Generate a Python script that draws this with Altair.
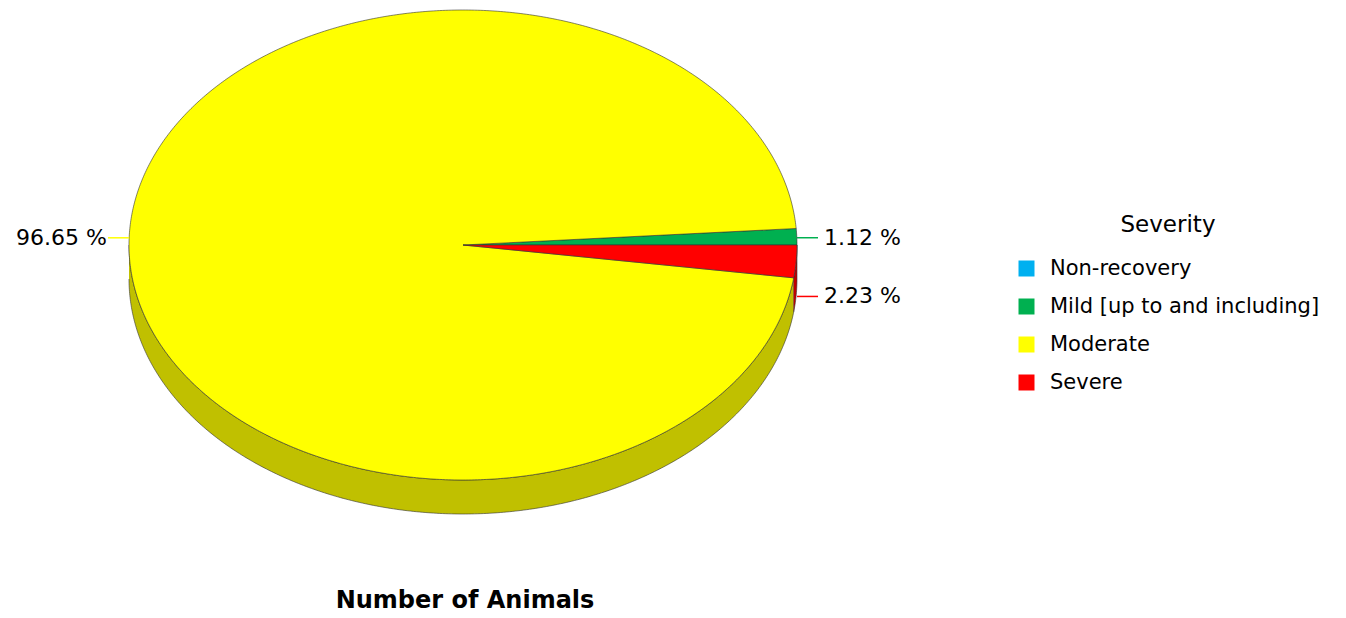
import math
import numpy as np
import pandas as pd
import altair as alt

# ---- data ----
severity = ["Non-recovery", "Mild [up to and including]", "Moderate", "Severe"]
percent = [0.0, 1.12, 96.65, 2.23]
colors = ["#00b0f0", "#00b050", "#ffff00", "#ff0000"]
side_colors = ["#0084b4", "#00843c", "#c0c000", "#c00000"]
label_shift = [0, 0, 0, 34]  # label spacing adjustment (pixels)

# ---- layout (pixels in plot coordinates) ----
W, H = 1330, 606
CX, CY = 455, 237
RX, RY = 334, 235
DEPTH = 34
START = 0.0  # degrees, counter-clockwise from east
LEADER = 21


def pt(theta_deg, dy=0.0):
    t = math.radians(theta_deg)
    return CX + RX * math.cos(t), CY - RY * math.sin(t) + dy


pie_rows, side_rows, lab_rows = [], [], []
cum = 0.0
for name, p, col, scol, shift in zip(severity, percent, colors, side_colors, label_shift):
    a = START + cum * 3.6
    b = a + p * 3.6
    cum += p
    if p <= 0:
        continue
    n = max(2, int(math.ceil((b - a) / 0.5)))
    thetas = np.linspace(a, b, n + 1)
    k = 0
    pie_rows.append(dict(sev=name, poly=name, o=k, x=CX, y=CY)); k += 1
    for t in thetas:
        x, y = pt(t)
        pie_rows.append(dict(sev=name, poly=name, o=k, x=x, y=y)); k += 1
    pie_rows.append(dict(sev=name, poly=name, o=k, x=CX, y=CY))
    # side wall (visible bottom half)
    lo, hi = max(a, 180.0), min(b, 360.0)
    if lo < hi:
        m = max(2, int(math.ceil((hi - lo) / 0.5)))
        ts = np.linspace(lo, hi, m + 1)
        k = 0
        for t in ts:
            x, y = pt(t, DEPTH)
            side_rows.append(dict(poly=name, sc=scol, o=k, x=x, y=y)); k += 1
        for t in ts[::-1]:
            x, y = pt(t)
            side_rows.append(dict(poly=name, sc=scol, o=k, x=x, y=y)); k += 1
    # label
    mid = (a + b) / 2
    _, ly = pt(mid)
    ly += shift
    right = math.cos(math.radians(mid)) >= 0
    ex = CX + RX if right else CX - RX
    x2 = ex + LEADER if right else ex - LEADER
    lab_rows.append(dict(sev=name, col=col, x=ex, x2=x2, y=ly + 1,
                         tx=x2 + 6 if right else x2 - 1,
                         txt=f"{p:.2f} %", al="left" if right else "right"))

pie = pd.DataFrame(pie_rows)
side = pd.DataFrame(side_rows)
labs = pd.DataFrame(lab_rows)

xs = alt.Scale(domain=[0, W], nice=False, zero=False)
ys = alt.Scale(domain=[0, H], nice=False, zero=False, reverse=True)
X = lambda f: alt.X(f"{f}:Q", scale=xs, axis=None)
Y = lambda f: alt.Y(f"{f}:Q", scale=ys, axis=None)

side_layer = alt.Chart(side).mark_line(filled=True, stroke="#333333", strokeWidth=0.6,
                                       interpolate="linear").encode(
    x=X("x"), y=Y("y"), detail="poly:N", order="o:Q",
    fill=alt.Fill("sc:N", scale=None, legend=None),
)

pie_layer = alt.Chart(pie).mark_line(filled=True, stroke="#333333", strokeWidth=0.6,
                                     interpolate="linear").encode(
    x=X("x"), y=Y("y"), detail="poly:N", order="o:Q",
    fill=alt.Fill("sev:N", scale=alt.Scale(domain=severity, range=colors),
                  legend=alt.Legend(title="Severity", orient="none", legendX=1008, legendY=206,
                                    symbolType="square", symbolSize=256, symbolStrokeWidth=0,
                                    labelFontSize=21, titleFontSize=23, titleFontWeight="normal",
                                    titleFont="DejaVu Sans", labelFont="DejaVu Sans",
                                    titleColor="#000000", labelColor="#000000",
                                    titleAnchor="middle", titlePadding=21, rowPadding=16,
                                    labelOffset=13, padding=0, labelLimit=400)),
)

rule_layer = alt.Chart(labs).mark_rule(strokeWidth=1.5).encode(
    x=X("x"), x2="x2:Q", y=Y("y"),
    color=alt.Color("col:N", scale=None, legend=None),
)

text_left = alt.Chart(labs[labs.al == "left"]).mark_text(
    align="left", baseline="middle", fontSize=22, font="DejaVu Sans", color="#000000"
).encode(x=X("tx"), y=Y("y"), text="txt:N")

text_right = alt.Chart(labs[labs.al == "right"]).mark_text(
    align="right", baseline="middle", fontSize=22, font="DejaVu Sans", color="#000000"
).encode(x=X("tx"), y=Y("y"), text="txt:N")

title_layer = alt.Chart(pd.DataFrame({"t": ["Number of Animals"]})).mark_text(
    align="center", baseline="alphabetic", fontSize=24, fontWeight="bold",
    font="DejaVu Sans", color="#000000"
).encode(x=alt.value(457), y=alt.value(600), text="t:N")

chart = alt.layer(side_layer, pie_layer, rule_layer, text_left, text_right, title_layer).resolve_scale(
    fill="independent", color="independent"
).properties(
    width=W, height=H, padding=0, autosize=alt.AutoSizeParams(type="none")
).configure(background="#ffffff").configure_view(stroke=None, strokeWidth=0)

chart.save("out.html", embed_options={"renderer": "svg", "actions": False})
